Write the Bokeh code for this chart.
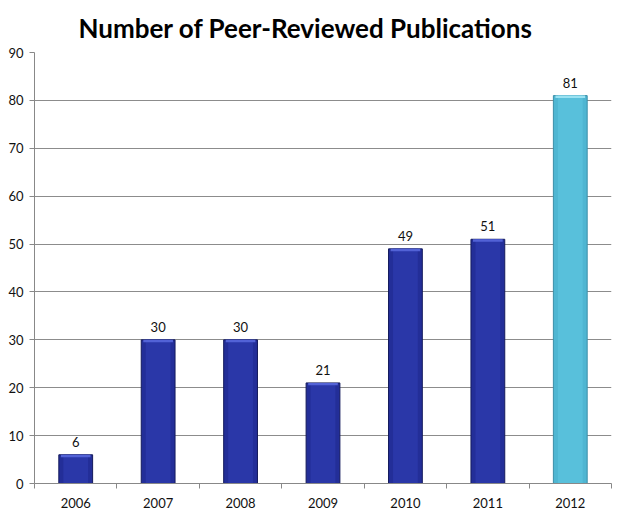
from bokeh.plotting import figure
from bokeh.models import (ColumnDataSource, FixedTicker, LabelSet, Title,
                          Range1d)
from bokeh.core.properties import value
from bokeh.embed import file_html
from bokeh.resources import INLINE

years = ["2006", "2007", "2008", "2009", "2010", "2011", "2012"]
counts = [6, 30, 30, 21, 49, 51, 81]
y_ticks = [0, 10, 20, 30, 40, 50, 60, 70, 80, 90]
title_text = "Number of Peer-Reviewed Publications"

dark_fill = "#232e98"
dark_edge = "#141a5c"
dark_inner = "#2a37a8"
dark_cap = "#5262d6"
light_fill = "#4fb6d2"
light_edge = "#3b8fa8"
light_inner = "#58c0db"
light_cap = "#9ae2f2"

n = len(years)
xs = [i + 0.5 for i in range(n)]
fills = [light_fill if y == "2012" else dark_fill for y in years]
edges = [light_edge if y == "2012" else dark_edge for y in years]
inners = [light_inner if y == "2012" else dark_inner for y in years]
caps = [light_cap if y == "2012" else dark_cap for y in years]

src = ColumnDataSource(dict(
    x=xs, top=counts, fill=fills, edge=edges, inner=inners, cap=caps,
    cap_bottom=[c - 0.5 for c in counts],
    label=[str(c) for c in counts],
))

p = figure(width=618, height=514, output_backend="svg", toolbar_location=None,
           x_range=Range1d(0, n), y_range=Range1d(0, 90),
           min_border_left=34, min_border_right=7, min_border_top=52,
           min_border_bottom=31, outline_line_color=None,
           background_fill_color="white", border_fill_color="white")
p.title.visible = False

title = Title(text=title_text, align="left", offset=44,
              text_font="Lato", text_font_style="bold",
              text_font_size="26px", text_color="black", standoff=18)
p.add_layout(title, "above")

# bars
p.vbar(x="x", top="top", bottom=0, width=0.41, source=src,
       fill_color="fill", line_color="edge", line_width=1)
p.vbar(x="x", top="top", bottom=0, width=0.30, source=src,
       fill_color="inner", line_color=None)
p.vbar(x="x", top="top", bottom="cap_bottom", width=0.36, source=src,
       fill_color="cap", line_color=None)

labels = LabelSet(x="x", y="top", text="label", source=src,
                  text_align="center", text_baseline="bottom", y_offset=8,
                  text_font=value("Lato"), text_font_size=value("13px"),
                  text_color=value("#111111"))
p.add_layout(labels)

# axes
p.xaxis.ticker = FixedTicker(ticks=xs, minor_ticks=list(range(n + 1)))
p.xaxis.major_label_overrides = {x: y for x, y in zip(xs, years)}
p.xaxis.major_tick_line_color = None
p.xaxis.minor_tick_out = 5
p.xaxis.minor_tick_in = 0
p.xaxis.minor_tick_line_color = "#888888"
p.xaxis.axis_line_color = "#888888"
p.xaxis.major_label_text_font = "Lato"
p.xaxis.major_label_text_font_size = "13px"
p.xaxis.major_label_text_color = "#111111"
p.xaxis.major_label_standoff = 8

p.yaxis.ticker = FixedTicker(ticks=y_ticks)
p.yaxis.axis_line_color = "#888888"
p.yaxis.major_tick_line_color = "#888888"
p.yaxis.major_tick_out = 5
p.yaxis.major_tick_in = 0
p.yaxis.minor_tick_line_color = None
p.yaxis.major_label_text_font = "Lato"
p.yaxis.major_label_text_font_size = "13px"
p.yaxis.major_label_text_color = "#111111"
p.yaxis.major_label_standoff = 6

p.xgrid.grid_line_color = None
p.ygrid.grid_line_color = "#8c8c8c"
p.ygrid.grid_line_width = 1

open("out.html", "w").write(file_html(p, INLINE))
